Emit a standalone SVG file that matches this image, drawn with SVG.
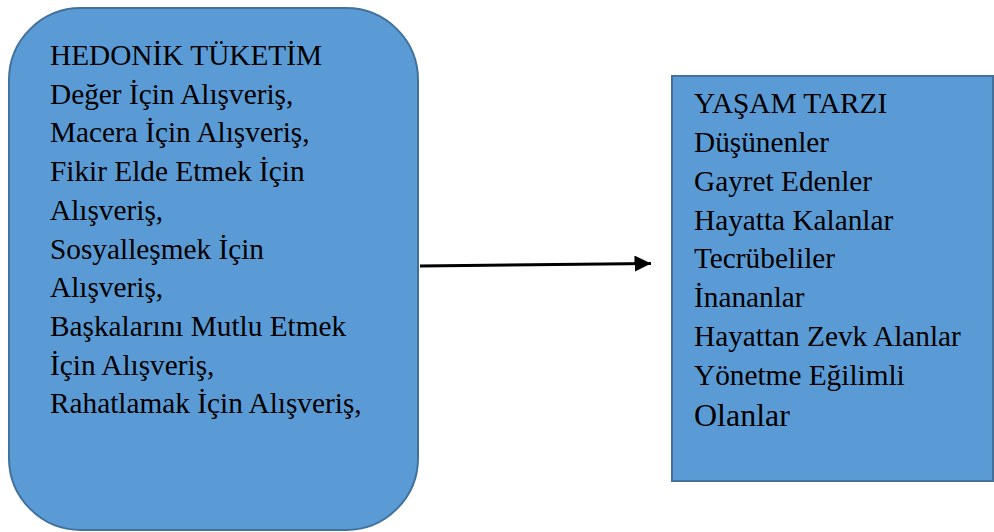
<svg xmlns="http://www.w3.org/2000/svg" width="994" height="532" viewBox="0 0 994 532">
<style>
.box{fill:#5B9BD5;stroke:#41719C;stroke-width:2}
text{font-family:'Liberation Serif','Times New Roman',serif;font-size:29.3px;fill:#000}
</style>
<defs>
<marker id="ah" markerWidth="5.5" markerHeight="5.4" refX="5.5" refY="2.7" orient="auto" markerUnits="strokeWidth">
<path d="M0,0 L5.5,2.7 L0,5.4 Z" fill="#000"/>
</marker>
</defs>
<rect width="994" height="532" fill="#fff"/>
<g id="hedonik">
<rect class="box" x="9" y="8" width="409" height="522" rx="72" ry="72"/>
<text x="50" y="65">HEDONİK TÜKETİM</text>
<text x="50" y="103.7">Değer İçin Alışveriş,</text>
<text x="50" y="142.4">Macera İçin Alışveriş,</text>
<text x="50" y="181.1">Fikir Elde Etmek İçin</text>
<text x="50" y="219.8">Alışveriş,</text>
<text x="50" y="258.5">Sosyalleşmek İçin</text>
<text x="50" y="297.2">Alışveriş,</text>
<text x="50" y="335.9">Başkalarını Mutlu Etmek</text>
<text x="50" y="374.6">İçin Alışveriş,</text>
<text x="50" y="413.3">Rahatlamak İçin Alışveriş,</text>
</g>
<g id="yasam">
<rect class="box" x="672" y="76" width="321" height="405"/>
<text x="694" y="113">YAŞAM TARZI</text>
<text x="694" y="152">Düşünenler</text>
<text x="694" y="191">Gayret Edenler</text>
<text x="694" y="229.5">Hayatta Kalanlar</text>
<text x="694" y="268">Tecrübeliler</text>
<text x="694" y="307">İnananlar</text>
<text x="694" y="346">Hayattan Zevk Alanlar</text>
<text x="694" y="385">Yönetme Eğilimli</text>
<text x="694" y="426" style="font-size:32px">Olanlar</text>
</g>
<g id="connectors">
<line x1="420" y1="266" x2="651" y2="263.5" stroke="#000" stroke-width="3" marker-end="url(#ah)"/>
</g>
</svg>
